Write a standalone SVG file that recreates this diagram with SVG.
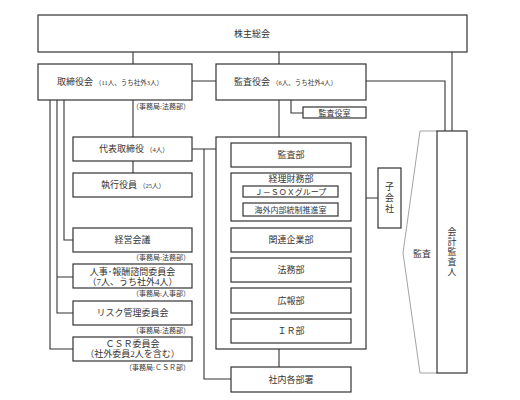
<svg xmlns="http://www.w3.org/2000/svg" width="520" height="400" viewBox="0 0 520 400">
<style>
.box{fill:#fff;stroke:#333;stroke-width:1.2}
.ln{fill:none;stroke:#333;stroke-width:1.1}
.gl{fill:none;stroke:#999;stroke-width:0.9}
text{font-family:"Liberation Serif","Noto Sans CJK JP",serif;fill:#333;font-size:9px}
.c{text-anchor:middle}
.s{font-size:6.5px}
.lab{font-size:7px;text-anchor:end}
</style>
<rect width="520" height="400" fill="#fff"/>
<g id="connectors">
<path class="ln" d="M133 52V64M279 52V64M452 52V131M192 81H216M366 81H445V131"/>
<path class="ln" d="M291 100V113H303"/>
<path class="ln" d="M133 100V137M133 161V173"/>
<path class="ln" d="M279 100V137"/>
<path class="ln" d="M50 100V349H73M57 100V313H73M57 277H73M64 100V240H73"/>
<path class="ln" d="M192 149H216M204 149V379H231"/>
<path class="ln" d="M223 155V331M223 155H231M223 197H231M223 240H231M223 270H231M223 300H231M223 331H231"/>
<path class="ln" d="M351 155H358V240H351M351 198H378"/>
<path class="ln" d="M279 349V367"/>
</g>
<g id="n-kabunushi"><rect class="box" x="38" y="15" width="429" height="37"/><text class="c" x="252" y="37">株主総会</text></g>
<g id="n-torishimariyakukai"><rect class="box" x="38" y="64" width="154" height="36"/><text x="57" y="85">取締役会<tspan class="s" dx="2">（11人、うち社外3人）</tspan></text></g>
<text class="lab" x="190" y="109">（事務局:法務部）</text>
<g id="n-kansayakukai"><rect class="box" x="216" y="64" width="150" height="36"/><text x="234" y="85">監査役会<tspan class="s" dx="2">（6人、うち社外4人）</tspan></text></g>
<g id="n-kansayakushitsu"><rect class="box" x="303" y="107" width="63" height="11"/><text class="c" x="334.5" y="116" style="font-size:8px">監査役室</text></g>
<g id="n-daihyo"><rect class="box" x="73" y="137" width="119" height="24"/><text x="99" y="152">代表取締役<tspan class="s" dx="2">（4人）</tspan></text></g>
<g id="n-shikko"><rect class="box" x="73" y="173" width="119" height="24"/><text x="101" y="188">執行役員<tspan class="s" dx="2">（25人）</tspan></text></g>
<g id="n-keiei"><rect class="box" x="73" y="228" width="119" height="24"/><text class="c" x="132.5" y="243">経営会議</text></g>
<text class="lab" x="190" y="260">（事務局:法務部）</text>
<g id="n-jinji"><rect class="box" x="73" y="264" width="119" height="24"/><text class="c" x="132.5" y="275">人事･報酬諮問委員会</text><text class="c" x="132.5" y="285">（7人、うち社外4人）</text></g>
<text class="lab" x="190" y="296">（事務局:人事部）</text>
<g id="n-risk"><rect class="box" x="73" y="301" width="119" height="24"/><text class="c" x="132.5" y="316">リスク管理委員会</text></g>
<text class="lab" x="190" y="333">（事務局:法務部）</text>
<g id="n-csr"><rect class="box" x="73" y="337" width="119" height="24"/><text class="c" x="132.5" y="347">ＣＳＲ委員会</text><text class="c" x="132.5" y="357">（社外委員2人を含む）</text></g>
<text class="lab" x="190" y="370">（事務局:ＣＳＲ部）</text>
<g id="n-container"><rect class="box" x="216" y="137" width="150" height="212"/></g>
<g id="n-kansabu"><rect class="box" x="231" y="143" width="120" height="24"/><text class="c" x="291" y="158">監査部</text></g>
<g id="n-keiri"><rect class="box" x="231" y="173" width="120" height="48"/><text class="c" x="291" y="182">経理財務部</text>
<rect class="box" x="243" y="186" width="95" height="11"/><text class="c" x="290.5" y="195" style="font-size:8px">Ｊ－ＳＯＸグループ</text>
<rect class="box" x="243" y="203" width="95" height="13"/><text class="c" x="290.5" y="212.5" style="font-size:8px">海外内部統制推進室</text></g>
<g id="n-kanren"><rect class="box" x="231" y="228" width="120" height="24"/><text class="c" x="291" y="243">関連企業部</text></g>
<g id="n-homu"><rect class="box" x="231" y="258" width="120" height="24"/><text class="c" x="291" y="273">法務部</text></g>
<g id="n-koho"><rect class="box" x="231" y="288" width="120" height="25"/><text class="c" x="291" y="303.5">広報部</text></g>
<g id="n-ir"><rect class="box" x="231" y="319" width="120" height="24"/><text class="c" x="291" y="334">ＩＲ部</text></g>
<g id="n-shanai"><rect class="box" x="231" y="367" width="120" height="25"/><text class="c" x="291" y="382.5">社内各部署</text></g>
<g id="n-kogaisha"><rect class="box" x="378" y="168" width="23" height="60"/><text class="c" x="389.5" y="190">子</text><text class="c" x="389.5" y="201">会</text><text class="c" x="389.5" y="212">社</text></g>
<g id="n-kansa-arrow"><path class="gl" d="M437 131H420L403 253L420 373H437"/><text class="c" x="422" y="257">監査</text></g>
<g id="n-kaikei"><rect class="box" x="437" y="131" width="30" height="242"/><text class="c" x="452" y="235">会</text><text class="c" x="452" y="245">計</text><text class="c" x="452" y="255">監</text><text class="c" x="452" y="265">査</text><text class="c" x="452" y="275">人</text></g>
</svg>
